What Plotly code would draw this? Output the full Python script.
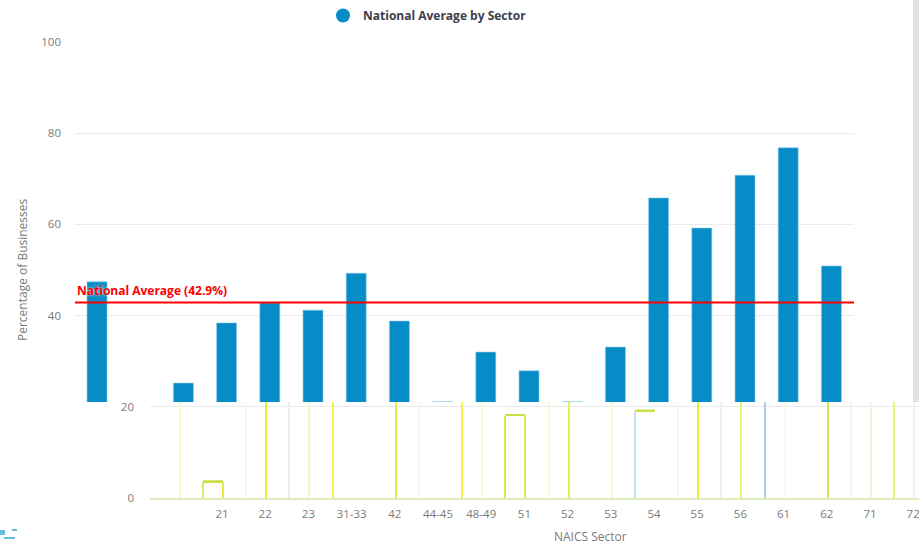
import plotly.graph_objects as go

W, H = 923, 545

# ---------- data ----------
sectors = ["", " ", "11", "21", "22", "23", "31-33", "42", "44-45", "48-49", "51", "52", "53",
           "54", "55", "56", "61", "62", "71", "72"]
sector_labels = ["", "", "", "21", "22", "23", "31-33", "42", "44-45", "48-49", "51", "52", "53",
                 "54", "55", "56", "61", "62", "71", "72"]
national_values = [47.4, 5, 25.2, 38.4, 42.8, 41.2, 49.3, 38.8, 21.1, 32, 27.9, 21.1, 33.1,
                   65.8, 59.2, 70.8, 76.8, 50.9, 21.1, 12]
ghost_values = [None, None, 30, 3.5, 30, 30, 30, 30, 30, 30, 18, 30, 30, 19, 30, 30, 30, 30, 30, 30]
ghost_left = [None, None, None, "#dfe86a", "#f6f9ec", "#e2f1f6", "#f0f44a", None, "#f6f9ec",
              "#f0f44a", "#dae84c", "#f6fad8", None, "#c4e2f2", "#f6f9ec", "#e8f4f0", "#a8d0ec",
              None, "#ecf4f8", "#ecf27a"]
ghost_right = [None, None, "#f6fac4", "#e6ea3c", "#eaf230", "#f4f9c4", None, "#dff04c", None,
               "#f6fad8", "#dfe85a", "#e6f04e", "#f4f9d0", None, "#e8f230", "#ecf370", "#f7faea",
               "#cde65a", "#eff6de", "#eaf3f6"]
top_caps = [None, None, None, 0.4, None, None, None, None, None, None, 0.4, None, None, 0.4,
            None, None, None, None, None, None]
cap_colors = ["#cadf48"] * 20
national_average = 42.9
y_ticks_top = [40, 60, 80, 100]
y_ticks_low = [0, 20]

# ---------- helpers ----------
def fx(px):
    return px / W

def fy(px):
    return 1 - px / H

BLUE = "#068cc6"
CUT = (498 - 402) / 4.56
cat_w = 43.2
xpos = list(range(len(sectors)))

fig = go.Figure()

fig.add_trace(go.Bar(x=xpos, y=national_values, xaxis="x", yaxis="y", width=20 / cat_w,
                     marker=dict(color=BLUE, line=dict(color="#8ccbe6", width=0.6)),
                     showlegend=False, hoverinfo="skip"))

edge_w = 1.2 / cat_w
ghost_w = 20 / cat_w
ghost_off = -9 / cat_w - ghost_w / 2
fig.add_trace(go.Bar(x=xpos, y=ghost_values, xaxis="x2", yaxis="y2", width=edge_w,
                     offset=ghost_off - edge_w / 2,
                     marker=dict(color=[c or "rgba(0,0,0,0)" for c in ghost_left], line=dict(width=0)),
                     showlegend=False, hoverinfo="skip"))
fig.add_trace(go.Bar(x=xpos, y=ghost_values, xaxis="x2", yaxis="y2", width=edge_w,
                     offset=ghost_off + ghost_w - edge_w / 2,
                     marker=dict(color=[c or "rgba(0,0,0,0)" for c in ghost_right], line=dict(width=0)),
                     showlegend=False, hoverinfo="skip"))
fig.add_trace(go.Bar(x=xpos, y=top_caps, base=ghost_values, xaxis="x2", yaxis="y2", width=ghost_w,
                     offset=ghost_off,
                     marker=dict(color=cap_colors, line=dict(width=0)),
                     showlegend=False, hoverinfo="skip"))

# legend-only entry
fig.add_trace(go.Scatter(x=[None], y=[None], mode="markers", name="National Average by Sector",
                         marker=dict(color=BLUE, size=14, symbol="circle"), xaxis="x", yaxis="y",
                         hoverinfo="skip"))

tick_font = dict(family="Open Sans", size=11.5, color="#7a7a7a")

specks = [(0, 530, 5, 535), (12, 529, 17, 531), (4, 537, 15, 539)]
speck_shapes = [dict(type="rect", xref="paper", yref="paper", x0=fx(a), x1=fx(c), y0=fy(d), y1=fy(b),
                     fillcolor="#6ab8dc", line=dict(width=0), layer="above") for a, b, c, d in specks]

fig.update_layout(
    width=W, height=H, margin=dict(l=0, r=0, t=0, b=0, autoexpand=False),
    paper_bgcolor="white", plot_bgcolor="rgba(0,0,0,0)",
    barmode="overlay", font=dict(family="Open Sans"),
    showlegend=True,
    legend=dict(x=fx(323), y=fy(1), xanchor="left", yanchor="top", orientation="h",
                bgcolor="rgba(0,0,0,0)", itemsizing="trace",
                font=dict(family="Open Sans", size=12, color="#3c4048", weight=700)),
    xaxis=dict(domain=[fx(75), fx(854)], range=[(75 - 97) / cat_w, (854 - 97) / cat_w],
               showticklabels=False, ticks="", showgrid=False, zeroline=False, showline=False,
               anchor="y"),
    yaxis=dict(domain=[fy(402), fy(42)], range=[CUT, 100], tickvals=y_ticks_top, showgrid=True,
               gridcolor="#ebebeb", gridwidth=1, zeroline=False, showline=False, ticks="",
               tickfont=tick_font, anchor="x", ticklabelstandoff=13),
    xaxis2=dict(domain=[fx(150), fx(923)], range=[(150 - 92.4) / cat_w, (923 - 92.4) / cat_w],
                tickvals=xpos, ticktext=sector_labels, tickangle=0, showgrid=False, zeroline=False,
                showline=True, linecolor="#dcecc0", linewidth=2, ticks="", tickfont=tick_font,
                anchor="y2", ticklabelstandoff=4),
    yaxis2=dict(domain=[fy(498), fy(402)], range=[0, CUT], tickvals=y_ticks_low, showgrid=True,
                gridcolor="#ebebeb", gridwidth=1, zeroline=False, showline=False, ticks="",
                tickfont=tick_font, anchor="x2", ticklabelstandoff=15),
    shapes=[
        dict(type="line", xref="x domain", yref="y", x0=0, x1=1, y0=national_average, y1=national_average,
             line=dict(color="#ff0000", width=2), layer="above"),
        dict(type="rect", xref="paper", yref="paper", x0=fx(913), x1=fx(919), y0=fy(402), y1=1,
             fillcolor="#dfe0e4", line=dict(width=0), layer="above"),
        dict(type="rect", xref="paper", yref="paper", x0=fx(919), x1=1, y0=0, y1=1,
             fillcolor="white", line=dict(width=0), layer="above"),
    ] + speck_shapes,
    annotations=[
        dict(text="National Average (42.9%)", xref="paper", yref="paper", x=fx(75), y=fy(290),
             xanchor="left", yanchor="middle", showarrow=False,
             font=dict(family="Open Sans", size=12, color="#ff0000", weight=700, shadow="0 0 3px white")),
        dict(text="Percentage of Businesses", xref="paper", yref="paper", x=fx(22), y=fy(270),
             xanchor="center", yanchor="middle", textangle=-90, showarrow=False,
             font=dict(family="Open Sans", size=12, color="#7a7a7a")),
        dict(text="NAICS Sector", xref="paper", yref="paper", x=fx(590), y=fy(536),
             xanchor="center", yanchor="middle", showarrow=False,
             font=dict(family="Open Sans", size=12, color="#7a7a7a")),
    ],
)

fig.write_html("out.html", config={"displayModeBar": False},
               post_script="document.body.style.margin='0';document.body.style.overflow='hidden';")
